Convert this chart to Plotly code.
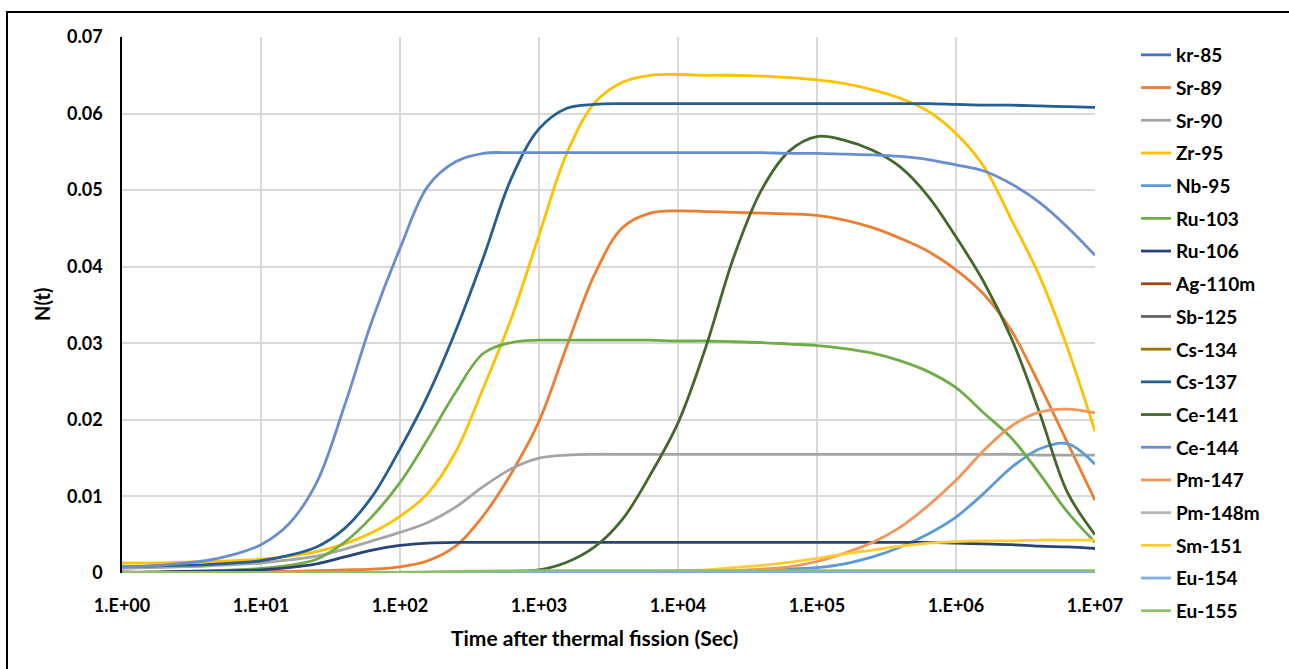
import plotly.graph_objects as go

# Time after thermal fission (s), 5 points per decade
t = [1, 1.585, 2.512, 3.981, 6.310, 10, 15.85, 25.12, 39.81, 63.10,
     100, 158.5, 251.2, 398.1, 631.0, 1000, 1585, 2512, 3981, 6310,
     1e4, 15850, 25120, 39810, 63100, 1e5, 158500, 251200, 398100, 631000,
     1e6, 1585000, 2512000, 3981000, 6310000, 1e7]

kr85 = [0.00001, 0.00001, 0.00001, 0.00001, 0.00001, 0.00002, 0.00002, 0.00002, 0.00004, 0.00005,
        0.00006, 0.00008, 0.00009, 0.0001, 0.0001, 0.0001, 0.0001, 0.0001, 0.0001, 0.0001,
        0.0001, 0.0001, 0.0001, 0.0001, 0.0001, 0.0001, 0.0001, 0.0001, 0.0001, 0.0001,
        0.0001, 0.0001, 0.0001, 0.0001, 0.0001, 0.0001]
sr89 = [0.0001, 0.0001, 0.0001, 0.0001, 0.0001, 0.0002, 0.0002, 0.0003, 0.0004, 0.0005,
        0.0008, 0.0016, 0.0035, 0.0075, 0.0130, 0.0198, 0.0296, 0.0390, 0.0451, 0.0470,
        0.0473, 0.0472, 0.0471, 0.0470, 0.0469, 0.0467, 0.0461, 0.0451, 0.0437, 0.0420,
        0.0396, 0.0364, 0.0316, 0.0246, 0.0171, 0.0095]
sr90 = [0.0006, 0.0007, 0.0008, 0.0009, 0.0011, 0.0013, 0.0017, 0.0022, 0.0031, 0.0042,
        0.0053, 0.0066, 0.0086, 0.0113, 0.0136, 0.0150, 0.0154, 0.0155, 0.0155, 0.0155,
        0.0155, 0.0155, 0.0155, 0.0155, 0.0155, 0.0155, 0.0155, 0.0155, 0.0155, 0.0155,
        0.0155, 0.0155, 0.0155, 0.0154, 0.0154, 0.0154]
zr95 = [0.0013, 0.0013, 0.0014, 0.0015, 0.0016, 0.0018, 0.0022, 0.0028, 0.0038, 0.0053,
        0.0074, 0.0104, 0.0158, 0.0242, 0.0332, 0.0441, 0.0548, 0.0614, 0.0641, 0.0650,
        0.0651, 0.0650, 0.0650, 0.0649, 0.0647, 0.0644, 0.0639, 0.0631, 0.0620, 0.0603,
        0.0574, 0.0531, 0.0461, 0.0388, 0.0295, 0.0185]
nb95 = [0.00001, 0.00001, 0.00001, 0.00001, 0.00001, 0.00001, 0.00001, 0.00001, 0.00001, 0.00002,
        0.00002, 0.00002, 0.00003, 0.00003, 0.00003, 0.00004, 0.00005, 0.00006, 0.00008, 0.0001,
        0.0001, 0.0002, 0.0002, 0.0003, 0.0005, 0.0007, 0.0012, 0.0021, 0.0034, 0.0051,
        0.0073, 0.0104, 0.0138, 0.0162, 0.0169, 0.0142]
ru103 = [0.0001, 0.0001, 0.0002, 0.0003, 0.0004, 0.0006, 0.0010, 0.0018, 0.0040, 0.0074,
         0.0118, 0.0175, 0.0236, 0.0287, 0.0301, 0.0304, 0.0304, 0.0304, 0.0304, 0.0304,
         0.0303, 0.0303, 0.0302, 0.0301, 0.0299, 0.0297, 0.0293, 0.0287, 0.0277, 0.0263,
         0.0242, 0.0209, 0.0176, 0.0130, 0.0080, 0.0040]
ru106 = [0.0001, 0.0001, 0.0002, 0.0002, 0.0003, 0.0004, 0.0007, 0.0012, 0.0021, 0.0030,
         0.0036, 0.0039, 0.0040, 0.0040, 0.0040, 0.0040, 0.0040, 0.0040, 0.0040, 0.0040,
         0.0040, 0.0040, 0.0040, 0.0040, 0.0040, 0.0040, 0.0040, 0.0040, 0.0040, 0.0040,
         0.0039, 0.0038, 0.0037, 0.0035, 0.0034, 0.0032]
ag110m = [0.00001, 0.00001, 0.00001, 0.00001, 0.00001, 0.00001, 0.00001, 0.00001, 0.00001, 0.00001,
          0.00001, 0.00001, 0.00001, 0.00001, 0.00001, 0.00001, 0.00001, 0.00001, 0.00001, 0.00001,
          0.00001, 0.00001, 0.00001, 0.00001, 0.00001, 0.00001, 0.00001, 0.00001, 0.00001, 0.00001,
          0.00001, 0.00001, 0.00001, 0.00001, 0.00001, 0.00001]
sb125 = [0.00001, 0.00001, 0.00001, 0.00001, 0.00001, 0.00001, 0.00001, 0.00001, 0.00001, 0.00002,
         0.00002, 0.00003, 0.00004, 0.00005, 0.00006, 0.00007, 0.00008, 0.00008, 0.00008, 0.00008,
         0.00008, 0.00008, 0.00008, 0.00008, 0.00008, 0.00008, 0.00008, 0.00008, 0.00008, 0.00008,
         0.00008, 0.00008, 0.00008, 0.00008, 0.00008, 0.00008]
cs134 = [0.00001, 0.00001, 0.00001, 0.00001, 0.00001, 0.00001, 0.00001, 0.00001, 0.00001, 0.00001,
         0.00001, 0.00001, 0.00001, 0.00001, 0.00001, 0.00001, 0.00001, 0.00001, 0.00001, 0.00001,
         0.00001, 0.00001, 0.00001, 0.00001, 0.00001, 0.00001, 0.00001, 0.00001, 0.00001, 0.00001,
         0.00001, 0.00001, 0.00001, 0.00001, 0.00001, 0.00001]
cs137 = [0.0008, 0.0009, 0.0010, 0.0011, 0.0013, 0.0016, 0.0023, 0.0034, 0.0058, 0.0100,
         0.0162, 0.0232, 0.0316, 0.0412, 0.0515, 0.0580, 0.0607, 0.0612, 0.0613, 0.0613,
         0.0613, 0.0613, 0.0613, 0.0613, 0.0613, 0.0613, 0.0613, 0.0613, 0.0613, 0.0613,
         0.0612, 0.0611, 0.0611, 0.0610, 0.0609, 0.0608]
ce141 = [0.00002, 0.00002, 0.00002, 0.00002, 0.00002, 0.00002, 0.00002, 0.00002, 0.00002, 0.00002,
         0.00002, 0.00003, 0.00005, 0.0001, 0.0002, 0.0004, 0.0014, 0.0034, 0.0070, 0.0128,
         0.0196, 0.0295, 0.0412, 0.0500, 0.0551, 0.0570, 0.0565, 0.0552, 0.0530, 0.0492,
         0.0439, 0.0380, 0.0306, 0.0210, 0.0106, 0.0050]
ce144 = [0.0008, 0.0009, 0.0012, 0.0016, 0.0024, 0.0037, 0.0064, 0.0118, 0.0218, 0.0330,
         0.0424, 0.0505, 0.0537, 0.0548, 0.0549, 0.0549, 0.0549, 0.0549, 0.0549, 0.0549,
         0.0549, 0.0549, 0.0549, 0.0549, 0.0548, 0.0548, 0.0547, 0.0546, 0.0544, 0.0540,
         0.0533, 0.0525, 0.0508, 0.0484, 0.0452, 0.0415]
pm147 = [0.00001, 0.00001, 0.00001, 0.00001, 0.00001, 0.00001, 0.00001, 0.00001, 0.00001, 0.00001,
         0.00002, 0.00002, 0.00003, 0.00004, 0.00005, 0.00006, 0.00007, 0.00008, 0.0001, 0.0001,
         0.0001, 0.0002, 0.0003, 0.0005, 0.0008, 0.0015, 0.0026, 0.0040, 0.0060, 0.0088,
         0.0121, 0.0160, 0.0192, 0.0210, 0.0214, 0.0209]
pm148m = [0.00001, 0.00001, 0.00001, 0.00001, 0.00001, 0.00001, 0.00001, 0.00001, 0.00001, 0.00001,
          0.00001, 0.00001, 0.00001, 0.00001, 0.00001, 0.00001, 0.00001, 0.00001, 0.00001, 0.00001,
          0.00001, 0.00001, 0.00001, 0.00001, 0.00001, 0.00001, 0.00001, 0.00001, 0.00001, 0.00001,
          0.00001, 0.00001, 0.00001, 0.00001, 0.00001, 0.00001]
sm151 = [0.00001, 0.00001, 0.00001, 0.00001, 0.00001, 0.00001, 0.00001, 0.00001, 0.00001, 0.00001,
         0.00001, 0.00001, 0.00001, 0.00001, 0.00001, 0.00002, 0.00004, 0.00006, 0.0001, 0.0002,
         0.0003, 0.0004, 0.0007, 0.0010, 0.0014, 0.0019, 0.0025, 0.0030, 0.0035, 0.0039,
         0.0041, 0.0042, 0.0042, 0.0043, 0.0043, 0.0043]
eu154 = [0.00001, 0.00001, 0.00001, 0.00001, 0.00001, 0.00001, 0.00001, 0.00001, 0.00001, 0.00001,
         0.00001, 0.00001, 0.00001, 0.00001, 0.00001, 0.00001, 0.00001, 0.00001, 0.00001, 0.00001,
         0.00001, 0.00001, 0.00001, 0.00001, 0.00001, 0.00001, 0.00001, 0.00001, 0.00001, 0.00001,
         0.00001, 0.00001, 0.00001, 0.00001, 0.00001, 0.00001]
eu155 = [0.00001, 0.00001, 0.00001, 0.00001, 0.00001, 0.00001, 0.00002, 0.00003, 0.00005, 0.00008,
         0.0001, 0.00014, 0.0002, 0.00025, 0.00028, 0.0003, 0.0003, 0.0003, 0.0003, 0.0003,
         0.0003, 0.0003, 0.0003, 0.0003, 0.0003, 0.0003, 0.0003, 0.0003, 0.0003, 0.0003,
         0.0003, 0.0003, 0.0003, 0.0003, 0.0003, 0.0003]

names = ["kr-85", "Sr-89", "Sr-90", "Zr-95", "Nb-95", "Ru-103", "Ru-106", "Ag-110m", "Sb-125",
         "Cs-134", "Cs-137", "Ce-141", "Ce-144", "Pm-147", "Pm-148m", "Sm-151", "Eu-154", "Eu-155"]
series = [kr85, sr89, sr90, zr95, nb95, ru103, ru106, ag110m, sb125,
          cs134, cs137, ce141, ce144, pm147, pm148m, sm151, eu154, eu155]
colors = ["#4472C4", "#ED7D31", "#A5A5A5", "#FFC000", "#5B9BD5", "#70AD47", "#264478", "#9E480E",
          "#636363", "#997300", "#255E91", "#43682B", "#698ED0", "#F1975A", "#B7B7B7", "#FFCD33",
          "#7CAFDD", "#8CC168"]

x_ticks = [1, 10, 100, 1000, 1e4, 1e5, 1e6, 1e7]
x_ticktext = ["1.E+00", "1.E+01", "1.E+02", "1.E+03", "1.E+04", "1.E+05", "1.E+06", "1.E+07"]
y_ticks = [0, 0.01, 0.02, 0.03, 0.04, 0.05, 0.06, 0.07]
y_ticktext = ["0", "0.01", "0.02", "0.03", "0.04", "0.05", "0.06", "0.07"]

FONT = "Lato"
fig = go.Figure()
for name, ys, col in zip(names, series, colors):
    fig.add_trace(go.Scatter(x=t, y=ys, mode="lines", name=name, legendgroup=name,
                             line=dict(color=col, width=2.8, shape="spline", smoothing=1.0)))

L, R, T, B = 122, 1095, 37, 573
W, H = 1289, 669

def px(xp):
    return (xp - L) / (R - L)

def py(yp):
    return (B - yp) / (B - T)

fig.update_layout(
    width=W, height=H,
    margin=dict(l=L, r=W - R, t=T, b=H - B),
    paper_bgcolor="white", plot_bgcolor="white",
    font=dict(family=FONT, size=18, color="black", weight="bold"),
    showlegend=True,
    legend=dict(x=px(1136), xanchor="left", y=py(36), yanchor="top",
                font=dict(family=FONT, size=19, color="black", weight="bold"),
                tracegroupgap=5, maxheight=650, bgcolor="rgba(0,0,0,0)"),
    xaxis=dict(type="log", range=[0, 7], tickvals=x_ticks, ticktext=x_ticktext,
               showgrid=True, gridcolor="#D9D9D9", gridwidth=1.5,
               showline=False, zeroline=False, ticks="", ticklabelstandoff=20,
               tickfont=dict(family=FONT, size=18, color="black", weight="bold")),
    yaxis=dict(range=[0, 0.07], tickvals=y_ticks, ticktext=y_ticktext,
               showgrid=True, gridcolor="#D9D9D9", gridwidth=1.5,
               showline=True, linecolor="black", linewidth=1.5, zeroline=False,
               ticks="", ticklabelstandoff=14,
               tickfont=dict(family=FONT, size=18, color="black", weight="bold")),
    annotations=[
        dict(text="N(t)", xref="paper", yref="paper", x=px(42), y=py(305), textangle=-90,
             showarrow=False, font=dict(family=FONT, size=20, color="black", weight="bold"),
             xanchor="center", yanchor="middle"),
        dict(text="Time after thermal fission (Sec)", xref="paper", yref="paper",
             x=px(594), y=py(637), showarrow=False,
             font=dict(family=FONT, size=21, color="black", weight="bold"),
             xanchor="center", yanchor="middle"),
    ],
    shapes=[dict(type="rect", xref="paper", yref="paper", x0=px(7), x1=px(1320),
                 y0=py(720), y1=py(12), line=dict(color="black", width=2),
                 fillcolor="rgba(0,0,0,0)", layer="above")],
)

fig.write_html("out.html", config={"displayModeBar": False},
               post_script="document.body.style.margin='0px';")
